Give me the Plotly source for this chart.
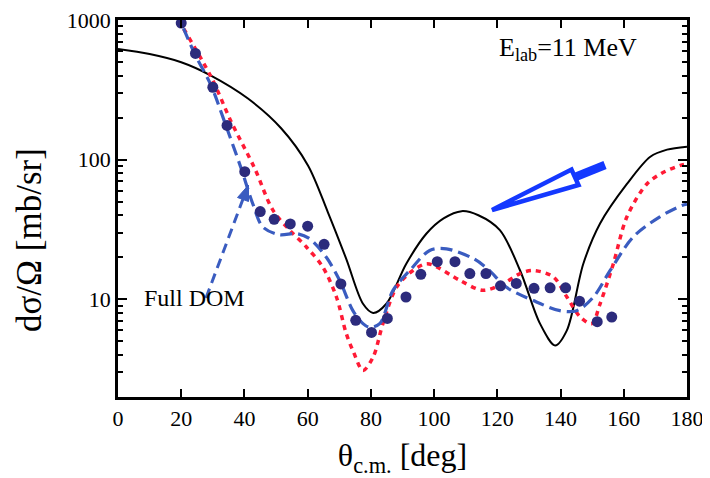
import plotly.graph_objects as go

# ---------------- data ----------------
black_theta = [0, 10, 20, 29.4, 41, 51.6, 60.1, 66.4, 72.2, 77.5, 80.7, 84.9, 91.2, 97.6,
               103, 108.7, 114, 120.8, 127.2, 133.5, 138.3, 142, 147.2, 152.5, 161, 168.4, 173.7, 180]
black_xs = [620, 570, 498, 400, 275, 168, 91, 42, 19.5, 9.3, 8.0, 9.3, 18, 29.6,
            38, 42.8, 40, 31.3, 16.1, 6.7, 4.68, 6.0, 18, 34.9, 67, 105, 118, 124]

red_theta = [17.5, 29.4, 35.8, 43.2, 49, 54.3, 59.6, 64.8, 69.1, 72.2, 74.5, 77.5, 80.7, 83.8,
             88.1, 93.3, 97.6, 101, 108.1, 115.5, 122, 127.2, 131.4, 137.7, 142, 146.2, 149.9,
             152.5, 156.7, 161, 167.3, 172, 177.9, 180]
red_xs = [1150, 393, 187, 87, 43.5, 31.3, 23.7, 17, 10.4, 5.7, 4.2, 3.1, 3.86, 6.7,
          12.2, 16.1, 18, 17, 13.7, 11.6, 13, 15.3, 16.1, 14.5, 10.4, 7.5, 6.7,
          9.3, 18, 39, 67, 80, 91, 93]

blue_theta = [18.5, 24.2, 29.4, 33.7, 39, 42.6, 45.8, 51.1, 56.4, 60.6, 65.9, 70.1, 74.3, 77.5,
              79.6, 82.8, 87, 92.3, 98.6, 103.9, 112.4, 117, 122.9, 131.4, 139.8, 145.1, 150.4,
              155.7, 163, 171.4, 178.4, 180]
blue_xs = [1150, 577, 342, 187, 86, 48.6, 33, 29, 29.6, 27.2, 20, 13.7, 8.3, 6.7,
           6.3, 6.7, 11.6, 16.1, 22.4, 23, 19.6, 16.5, 12.2, 9.8, 8.3, 8.3, 10.4,
           16.1, 28, 39, 47, 48]

exp_theta = [20, 24.5, 30, 34.5, 40.1, 45, 49.4, 54.5, 60, 65.2, 70.5, 75.2, 80.2, 85.2,
             91.1, 95.8, 101, 106.6, 111.3, 116.4, 121, 126, 131.6, 136.7, 141.6, 146, 151.6, 156.2]
exp_xs = [950, 576, 330, 176, 82, 42.5, 37.4, 34.7, 33.4, 24.8, 12.9, 7.08, 5.8, 7.3,
          10.4, 15.1, 18.6, 18.6, 15.3, 15.3, 12.5, 13.0, 12.0, 12.1, 12.1, 9.7, 6.92, 7.47]

x_ticks = [0, 20, 40, 60, 80, 100, 120, 140, 160, 180]
y_ticks = [10, 100, 1000]
y_ticklabels = ["10", "100", "1000"]

# ---------------- figure ----------------
FONT = "Liberation Serif"
OFF = 8                      # default page (body) margin of the browser
W, H = 700, 470
PL, PT, PW, PH = 118, 20, 569, 377   # plot area in window pixels
L, T = PL - OFF, PT - OFF
R = W - L - PW
B = H - T - PH

def px(x):  # window pixel -> paper x
    return (x - PL) / PW

def py(y):  # window pixel -> paper y
    return (PT + PH - y) / PH

fig = go.Figure()
fig.add_trace(go.Scatter(x=black_theta, y=black_xs, mode="lines",
                         line=dict(color="black", width=2, shape="spline", smoothing=0.9),
                         showlegend=False))
fig.add_trace(go.Scatter(x=red_theta, y=red_xs, mode="lines",
                         line=dict(color="#ff1a35", width=3.5, dash="5px,5px",
                                   shape="spline", smoothing=0.9),
                         showlegend=False))
fig.add_trace(go.Scatter(x=blue_theta, y=blue_xs, mode="lines",
                         line=dict(color="#3a5cc0", width=3.2, dash="12px,6px",
                                   shape="spline", smoothing=0.9),
                         showlegend=False))
fig.add_trace(go.Scatter(x=exp_theta, y=exp_xs, mode="markers",
                         marker=dict(color="#2c2b7c", size=11),
                         showlegend=False, cliponaxis=True))

axis_common = dict(showgrid=False, zeroline=False, showline=True, linecolor="black",
                   linewidth=2.5, mirror="ticks", ticks="inside", tickwidth=2,
                   tickcolor="black", automargin=False, ticklabeloverflow="allow",
                   tickfont=dict(family=FONT, size=22, color="black"))

fig.update_xaxes(range=[0, 180], tickvals=x_ticks, ticklen=8,
                 title=dict(text="θ<sub>c.m.</sub> [deg]",
                            font=dict(family=FONT, size=32, color="black"), standoff=14),
                 **axis_common)
fig.update_yaxes(type="log", range=[0.30103, 3], tickvals=y_ticks, ticktext=y_ticklabels,
                 ticklen=9,
                 minor=dict(ticks="inside", ticklen=5, tickwidth=1.5, tickcolor="black",
                            dtick="D1", showgrid=False),
                 **axis_common)

# y axis title (placed as in the reference, below the plot centre)
fig.add_annotation(x=px(29), y=py(240), xref="paper", yref="paper",
                   text="dσ/Ω [mb/sr]", showarrow=False, textangle=-90,
                   xanchor="center", yanchor="middle",
                   font=dict(family=FONT, size=35, color="black"))

# annotations
fig.add_annotation(x=px(497), y=py(49), xref="paper", yref="paper",
                   xanchor="left", yanchor="middle",
                   text="E<sub>lab</sub>=11 MeV", showarrow=False,
                   font=dict(family=FONT, size=26, color="black"))
fig.add_annotation(x=px(142), y=py(313), xref="paper", yref="paper", xanchor="left",
                   text="Full DOM", showarrow=False,
                   font=dict(family=FONT, size=24, color="black"))

# dashed "Full DOM" arrow
fig.add_shape(type="line", xref="paper", yref="paper",
              x0=px(206), y0=py(298), x1=px(243), y1=py(199),
              line=dict(color="#3a5cc0", width=3, dash="10px,6px"))
fig.add_shape(type="path", xref="paper", yref="paper",
              path=f"M {px(248.5)} {py(185)} L {px(248.5)} {py(201.5)} L {px(237.5)} {py(197.5)} Z",
              fillcolor="#3a5cc0", line=dict(color="#3a5cc0", width=1))

# big hollow blue arrow
blue2 = "#1438ff"
fig.add_shape(type="path", xref="paper", yref="paper",
              path=(f"M {px(492)} {py(210)} L {px(571.5)} {py(169.5)} "
                    f"L {px(578.5)} {py(185)} Z"),
              fillcolor="rgba(0,0,0,0)", line=dict(color=blue2, width=4.5))
fig.add_shape(type="line", xref="paper", yref="paper",
              x0=px(574), y0=py(177.5), x1=px(605), y1=py(165),
              line=dict(color=blue2, width=8.5))

fig.update_layout(width=W, height=H, margin=dict(l=L, r=R, t=T, b=B),
                  plot_bgcolor="white", paper_bgcolor="white",
                  font=dict(family=FONT, color="black"))

fig.write_html("out.html")
